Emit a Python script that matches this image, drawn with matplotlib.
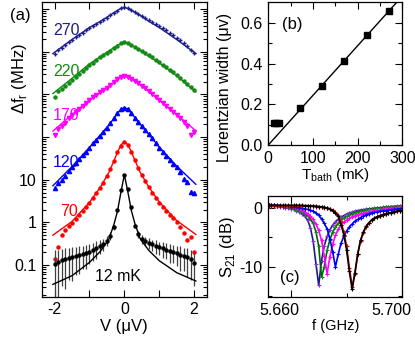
import matplotlib.pyplot as plt
import matplotlib.transforms as mtransforms
import numpy as np
from matplotlib.ticker import LogLocator, FuncFormatter, NullFormatter

plt.rcParams['font.family'] = ['Liberation Sans', 'DejaVu Sans']
plt.rcParams['font.size'] = 11.5
plt.rcParams['mathtext.fontset'] = 'custom'
plt.rcParams['mathtext.rm'] = 'Liberation Sans'

# ---- panel (a): delta f_r vs V, curves offset for clarity (MHz) ----
V = np.round(np.arange(-20, 21) / 10, 1)
V_fit = [-2.05, -1.5, -1.0, -0.7, -0.45, -0.3, -0.2, -0.1, 0, 0.1, 0.2, 0.3, 0.45, 0.7, 1.0, 1.5, 2.05]

d270 = [8910, 11200, 12600, 14800, 17000, 19100, 21900, 25100, 28200, 32400, 36300, 40700, 45700,
        50100, 56200, 63100, 72400, 83200, 93300, 104700, 112200, 107200, 97700, 87100, 77600,
        70800, 63100, 56200, 50100, 45700, 40700, 36300, 32400, 28200, 24500, 21400, 18600, 15800,
        13500, 11200, 9550]
d220 = [891, 1200, 1350, 1580, 1910, 2190, 2570, 3020, 3550, 4170, 4900, 5620, 6460, 7410, 8320,
        9330, 10700, 12300, 14100, 15800, 17000, 16200, 14800, 13200, 11700, 10700, 9550, 8320,
        7410, 6460, 5750, 5010, 4370, 3800, 3310, 2880, 2450, 2090, 1740, 1480, 1260]
d170 = [112, 158, 178, 209, 282, 331, 389, 447, 525, 631, 741, 851, 977, 1120, 1260, 1450, 1660,
        1950, 2290, 2630, 2750, 2630, 2340, 2040, 1820, 1620, 1410, 1200, 1020, 871, 741, 631, 537,
        457, 389, 331, 275, 229, 186, 112, 132]
d120 = [6.3, 8.3, 10, 12, 15.8, 20, 24.5, 30.2, 37.2, 45.7, 56.2, 70.8, 87.1, 107, 132, 166, 214,
        275, 363, 447, 490, 457, 372, 288, 229, 186, 148, 117, 93.3, 72.4, 56.2, 45.7, 36.3, 29.5,
        24, 19.5, 15.1, 10.5, 8.9, 5.2, 5.0]
d70 = [0.141, 0.263, 0.50, 0.66, 0.83, 0.98, 1.20, 1.48, 1.82, 2.24, 2.82, 3.63, 4.79, 6.31, 8.51,
       12.0, 17.4, 27.5, 43.7, 63.1, 77.6, 64.6, 45.7, 29.5, 18.6, 12.9, 9.12, 6.76, 5.01, 3.80,
       2.88, 2.29, 1.86, 1.51, 1.26, 1.0, 0.79, 0.56, 0.38, 0.45, 0.20]
d12 = [0.105, 0.120, 0.132, 0.138, 0.145, 0.151, 0.158, 0.170, 0.182, 0.191, 0.204, 0.224, 0.251,
       0.282, 0.316, 0.372, 0.479, 0.76, 2.0, 5.6, 13.2, 6.0, 2.29, 0.83, 0.525, 0.417, 0.363,
       0.331, 0.302, 0.282, 0.263, 0.245, 0.229, 0.214, 0.200, 0.186, 0.174, 0.162, 0.151, 0.135,
       0.112]
e12 = [0.12, 0.11, 0.10, 0.11, 0.10, 0.11, 0.10, 0.11, 0.10, 0.11, 0.10, 0.10, 0.11, 0.10, 0.10,
       0.10, 0.10, 0.10, 0.10, 0.10, 0.10, 0.10, 0.10, 0.10, 0.10, 0.10, 0.09, 0.10, 0.09, 0.10,
       0.09, 0.10, 0.09, 0.10, 0.09, 0.09, 0.10, 0.09, 0.10, 0.09, 0.08]

f270 = [9120, 19500, 37200, 51300, 69200, 83200, 93300, 104700, 109600, 104700, 95500, 85100,
        72400, 52500, 37200, 19500, 9120]
f220 = [1050, 2400, 5250, 7590, 10500, 12600, 14100, 15800, 16600, 15800, 14500, 12900, 11000,
        7940, 5500, 2750, 1150]
f170 = [138, 339, 741, 1120, 1550, 1950, 2290, 2570, 2690, 2570, 2340, 2040, 1700, 1170, 741, 339, 141]
f120 = [7.2, 20.4, 57.5, 110, 191, 275, 363, 447, 490, 457, 372, 288, 204, 117, 58.9, 20.9, 7.8]
f70 = [0.50, 1.05, 2.95, 6.46, 14.5, 27.5, 43.7, 64.6, 79.4, 66.1, 45.7, 28.8, 15.1, 6.76, 3.02, 1.10, 0.52]
f12 = [0.035, 0.056, 0.115, 0.204, 0.39, 0.89, 1.78, 5.0, 13.2, 5.2, 1.9, 0.95, 0.42, 0.22, 0.126, 0.066, 0.042]

# ---- panel (b): Lorentzian width vs bath temperature ----
T_bath = [12, 18, 24, 70, 120, 170, 220, 270]
width = [0.107, 0.109, 0.110, 0.182, 0.290, 0.415, 0.541, 0.659]
T_line = [0, 300]
w_line = [0.0, 0.732]

# ---- panel (c): S21 vs frequency ----
freq = np.round(5.652 + 0.001 * np.arange(49), 3)
s12 = [0.5, 0.5, 0.5, 0.5, 0.5, 0.5, 0.5, 0.5, 0.5, 0.5, 0.5, 0.5, 0.5, 0.45, 0.45, 0.4, 0.4, 0.35,
       0.3, 0.25, 0.15, 0.05, -0.1, -0.4, -0.8, -1.4, -2.8, -4.5, -7.1, -10.8, -13.9, -11.0, -7.8,
       -5.5, -4.1, -3.1, -2.5, -2.0, -1.7, -1.45, -1.25, -1.1, -0.95, -0.85, -0.75, -0.6, -0.5,
       -0.4, -0.35]
s70 = [0.45, 0.45, 0.45, 0.45, 0.45, 0.45, 0.45, 0.45, 0.45, 0.45, 0.45, 0.45, 0.45, 0.4, 0.4,
       0.35, 0.35, 0.3, 0.25, 0.2, 0.1, 0.0, -0.1, -0.35, -0.7, -1.2, -2.4, -4.0, -6.5, -10.2,
       -13.4, -11.2, -7.9, -5.6, -4.2, -3.2, -2.5, -2.0, -1.7, -1.45, -1.25, -1.1, -0.95, -0.85,
       -0.75, -0.6, -0.5, -0.4, -0.35]
s120 = [0.5, 0.5, 0.5, 0.45, 0.45, 0.4, 0.4, 0.35, 0.3, 0.3, 0.2, 0.1, 0.0, -0.1, -0.2, -0.35,
        -0.5, -0.8, -1.2, -1.8, -2.6, -3.5, -5.2, -7.5, -10.0, -7.9, -6.0, -4.8, -3.9, -3.2, -2.7,
        -2.2, -1.9, -1.6, -1.3, -1.1, -0.95, -0.8, -0.7, -0.6, -0.5, -0.45, -0.4, -0.3, -0.25,
        -0.2, -0.15, -0.1, -0.05]
s170 = [0.5, 0.5, 0.5, 0.45, 0.45, 0.4, 0.35, 0.3, 0.25, 0.15, 0.0, -0.1, -0.3, -0.6, -1.0, -1.4,
        -1.9, -2.7, -3.8, -5.5, -8.2, -11.2, -8.3, -6.2, -4.6, -3.6, -2.9, -2.4, -2.0, -1.7, -1.45,
        -1.25, -1.1, -0.95, -0.85, -0.75, -0.6, -0.5, -0.4, -0.35, -0.3, -0.2, -0.15, -0.1, 0.0,
        0.05, 0.1, 0.15, 0.2]
s220 = [0.5, 0.5, 0.45, 0.4, 0.35, 0.3, 0.25, 0.15, 0.05, -0.1, -0.25, -0.45, -0.7, -0.95, -1.3,
        -1.8, -2.6, -4.0, -6.5, -11.8, -10.0, -7.2, -5.4, -4.1, -3.2, -2.6, -2.1, -1.7, -1.4,
        -1.15, -0.9, -0.75, -0.6, -0.5, -0.4, -0.3, -0.2, -0.15, -0.05, 0.0, 0.05, 0.1, 0.15, 0.2,
        0.25, 0.3, 0.3, 0.35, 0.4]
s270 = [0.5, 0.45, 0.4, 0.35, 0.3, 0.2, 0.1, 0.0, -0.1, -0.2, -0.4, -0.6, -0.9, -1.4, -2.0, -3.3,
        -5.6, -9.5, -13.2, -9.0, -6.4, -4.8, -3.7, -2.9, -2.3, -1.9, -1.55, -1.25, -1.0, -0.8,
        -0.65, -0.5, -0.4, -0.3, -0.25, -0.15, -0.1, -0.05, 0.0, 0.05, 0.1, 0.15, 0.2, 0.25, 0.3,
        0.3, 0.35, 0.35, 0.4]

navy, green, magenta, blue, red = '#1c1c8a', '#138a13', '#ff00ff', '#0000ff', '#ff0000'
purple = '#8a2be2'

fig = plt.figure(figsize=(4.15, 3.39), dpi=100)


def style(ax):
    ax.tick_params(which='both', direction='in', top=True, right=True, width=0.8, pad=4)
    ax.tick_params(which='major', length=5)
    ax.tick_params(which='minor', length=3)
    for s in ax.spines.values():
        s.set_linewidth(0.9)


# panel (a)
ax = fig.add_axes([0.1005, 0.1248, 0.3983, 0.8693])
style(ax)
ax.set_yscale('log')
curves = [(d270, f270, navy, '+', 3.5), (d220, f220, green, 'o', 2.2),
          (d170, f170, magenta, 'v', 3.0), (d120, f120, blue, '^', 3.0),
          (d70, f70, red, 'o', 2.2)]
for d, fit, c, m, ms in curves:
    ax.plot(V_fit, fit, color=c, lw=1.0)
    ax.plot(V, d, ls='none', marker=m, ms=ms, color=c, mew=1.0)
ax.errorbar(V, d12, yerr=e12, fmt='none', ecolor='0.25', elinewidth=0.9)
ax.plot(V_fit, f12, color='k', lw=1.0)
ax.plot(V, d12, ls='none', marker='o', ms=2.2, color='k')
ax.set_xlim(-2.37, 2.37)
ax.set_ylim(0.018, 1.48e5)
ax.set_xticks([-2, -1, 0, 1, 2], ['-2', '', '0', '', '2'])
ax.yaxis.set_major_locator(LogLocator(base=10, numticks=20))
ax.yaxis.set_minor_locator(LogLocator(base=10, subs=np.arange(2, 10), numticks=20))
lab = {0.1: '0.1', 1.0: '1', 10.0: '10'}
ax.yaxis.set_major_formatter(FuncFormatter(
    lambda v, p: next((t for k, t in lab.items() if abs(v - k) < 1e-6 * k), '')))
ax.yaxis.set_minor_formatter(NullFormatter())
ax.set_xlabel('V (μV)', fontsize=12, labelpad=1)
fig.text(0.048, 0.77, 'Δf$_\\mathregular{r}$ (MHz)', rotation=90, ha='center', va='center', fontsize=12)
fig.text(0.05, 0.955, '(a)', ha='center', va='center', fontsize=12)
for txt, x, y, c in [('270', -1.66, 3.2e4, navy), ('220', -1.66, 3400, green),
                     ('170', -1.66, 330, magenta), ('120', -1.66, 26, blue),
                     ('70', -1.6, 1.78, red), ('12 mK', -0.19, 0.054, 'k')]:
    ax.text(x, y, txt, color=c, ha='center', va='center', fontsize=11.5)

# panel (b)
axb = fig.add_axes([0.6465, 0.5723, 0.3229, 0.4218])
style(axb)
axb.plot(T_line, w_line, color='k', lw=1.0)
axb.plot(T_bath, width, ls='none', marker='s', ms=4.5, color='k')
axb.set_xlim(0, 300)
axb.set_ylim(0, 0.703)
axb.set_xticks([0, 100, 200, 300])
axb.set_xticks([50, 150, 250], minor=True)
axb.set_yticks([0, 0.2, 0.4, 0.6], ['0.0', '0.2', '0.4', '0.6'])
axb.set_yticks([0.1, 0.3, 0.5], minor=True)
axb.set_xlabel('T$_\\mathregular{bath}$ (mK)', fontsize=11, labelpad=0)
axb.set_ylabel('Lorentzian width (μv)', fontsize=11.5)
axb.yaxis.set_label_coords(-0.27, 0.4)
axb.text(0.18, 0.84, '(b)', transform=axb.transAxes, ha='center', va='center', fontsize=12)

# panel (c)
axc = fig.add_axes([0.6465, 0.1230, 0.3229, 0.2988])
style(axc)
for s, lc, mc in [(s270, navy, purple), (s220, '#006400', green), (s170, magenta, magenta),
                  (s120, blue, blue), (s70, red, red), (s12, 'k', 'k')]:
    axc.plot(freq, s, color=lc, lw=1.2, marker='+', ms=3, mec=mc, mew=0.8)
axc.set_xlim(5.6519, 5.700)
axc.set_ylim(-15.24, 2.1)
axc.set_xticks([5.66, 5.70], ['5.660', '5.700'])
axc.set_xticks([5.68], minor=True)
axc.set_yticks([0, -10], ['0', '-10'])
axc.set_yticks([-5, -15], minor=True)
axc.set_xlabel('f (GHz)', fontsize=10.5, labelpad=1)
axc.set_ylabel('S$_\\mathregular{21}$ (dB)', fontsize=12, labelpad=2)
axc.text(0.16, 0.2, '(c)', transform=axc.transAxes, ha='center', va='center', fontsize=12)
shift = mtransforms.ScaledTranslation(-0.11, 0, fig.dpi_scale_trans)
for t in axc.xaxis.get_major_ticks():
    t.label1.set_transform(t.label1.get_transform() + shift)

fig.savefig('out.png', dpi=100)
